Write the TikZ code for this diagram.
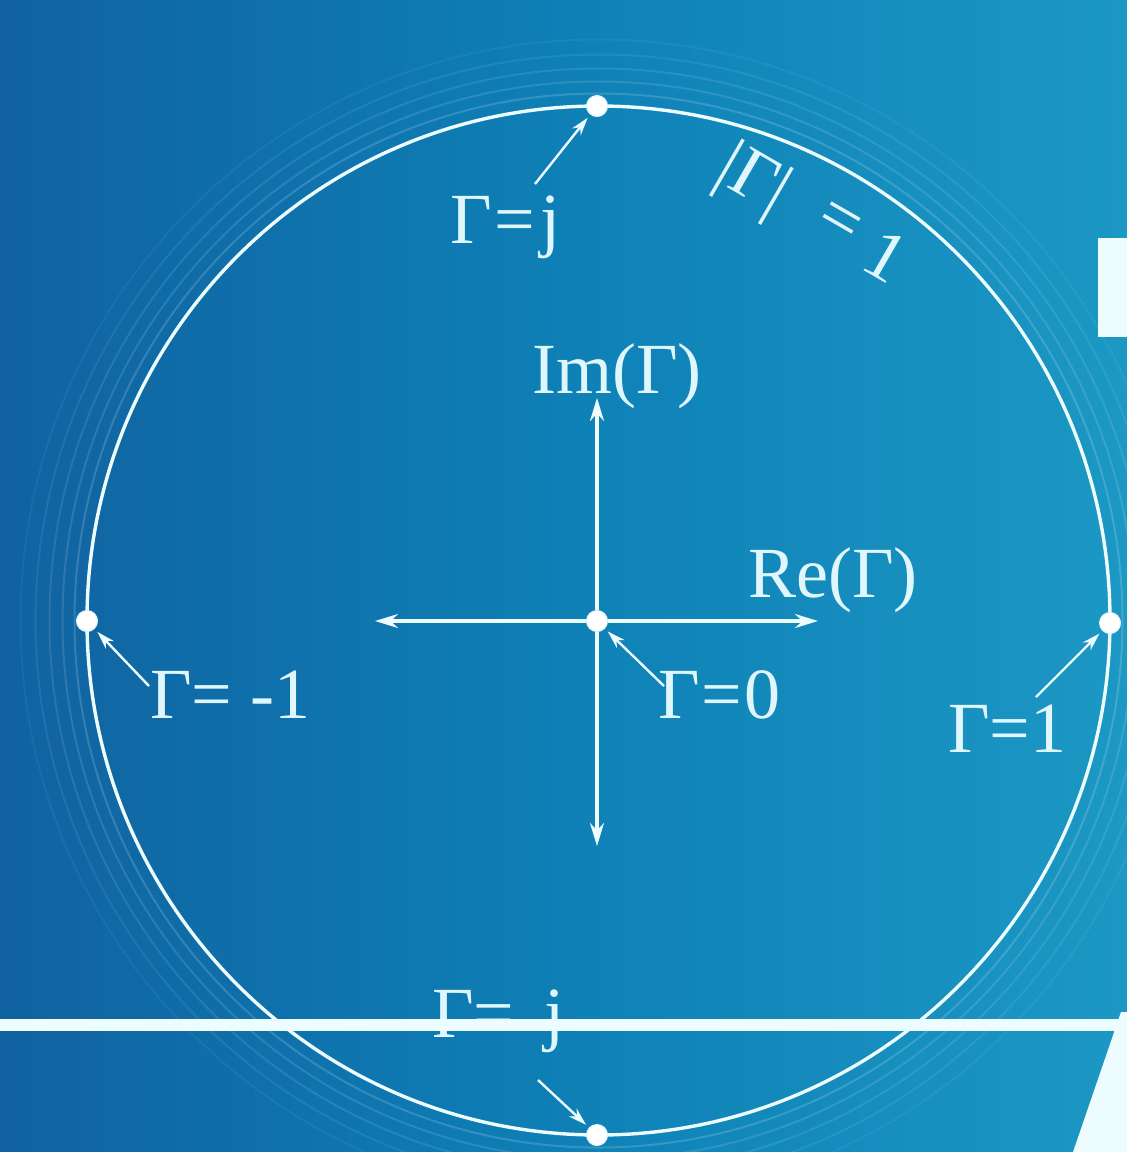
\documentclass[tikz,border=0pt]{standalone}
\usepackage{fontspec}
\setmainfont{Liberation Serif}
\usetikzlibrary{arrows.meta}
\definecolor{bgL}{RGB}{16,98,160}
\definecolor{bgM}{RGB}{14,128,182}
\definecolor{bgR}{RGB}{28,152,196}
\definecolor{ink}{RGB}{222,246,252}
\definecolor{wline}{RGB}{236,252,255}
\tikzset{
  ring/.style={draw=wline, line width=3.4pt},
  halo/.style={draw=white, line width=2pt, opacity=0.10},
  dot/.style={circle, fill=white, draw=ink, line width=1pt, minimum size=21pt, inner sep=0pt},
  axis/.style={draw=wline, line width=3.2pt, -{Stealth[length=23pt,width=14pt]}},
  ptr/.style={draw=wline, line width=2.4pt, -{Stealth[length=18pt,width=11pt]}, shorten >=4pt},
  lbl/.style={text=ink, font=\fontsize{72}{80}\selectfont, inner sep=0pt},
}
\begin{document}
\begin{tikzpicture}[x=1pt,y=-1pt]
\useasboundingbox (0,0) rectangle (1127,1152);
% background
\shade[left color=bgL, right color=bgR, middle color=bgM] (0,0) rectangle (1127,1152);
% faint outer rings
\foreach \r/\o in {524/0.16, 536/0.12, 549/0.10, 563/0.08, 578/0.05}
  \draw[halo, opacity=\o] (598.5,620.5) ellipse [x radius=\r, y radius=\r+3];
% unit circle
\draw[ring] (598.5,620.5) ellipse [x radius=511.5, y radius=514.5];
% points
\node[dot] (top) at (597,106) {};
\node[dot] (left) at (87,621) {};
\node[dot] (right) at (1110,623) {};
\node[dot] (bot) at (597,1135) {};
\node[dot] (ctr) at (597,621) {};
% axes
\coordinate (xl) at (375,621);
\coordinate (xr) at (818,621);
\coordinate (yu) at (597,398);
\coordinate (yd) at (597,846);
\draw[axis] (ctr) -- (xl);
\draw[axis] (ctr) -- (xr);
\draw[axis] (ctr) -- (yu);
\draw[axis] (ctr) -- (yd);
% labels
\node[lbl, anchor=base] (im) at (617,393) {Im(Γ)};
\node[lbl, anchor=base west] (re) at (748,597) {Re(Γ)};
\node[lbl, anchor=base west] (lj) at (450,243) {Γ{\kern3pt}={\kern5pt}j};
\node[lbl, anchor=base west] (lz) at (658,718) {Γ{\kern2pt}={\kern2pt}0};
\node[lbl, anchor=base west] (lm) at (150,718) {Γ= -1};
\node[lbl, anchor=base west] (lo) at (948,752) {Γ=1};
\node[lbl, anchor=base west] (lmj) at (432,1037) {Γ= \,j};
\node[lbl, rotate=-30] (mag) at (752,182) {|Γ|};
\node[lbl, rotate=-30] (mageq) at (838,224) {=};
\node[lbl, rotate=-30] (magone) at (886,256) {1};
% pointers
\coordinate (pj) at (535,184);
\coordinate (pz) at (664,686);
\coordinate (pm) at (149,686);
\coordinate (po) at (1036,697);
\coordinate (pmj) at (538,1080);
\draw[ptr] (pj) -- (top);
\draw[ptr] (pz) -- (ctr);
\draw[ptr] (pm) -- (left);
\draw[ptr] (po) -- (right);
\draw[ptr] (pmj) -- (bot);
% foreground bar and white shapes
\fill[wline] (0,1019) rectangle (1120,1031);
\fill[wline] (1121,1012) -- (1127,1012) -- (1127,1152) -- (1073,1152) -- cycle;
\fill[wline] (1098,238) rectangle (1127,337);
\end{tikzpicture}
\end{document}
